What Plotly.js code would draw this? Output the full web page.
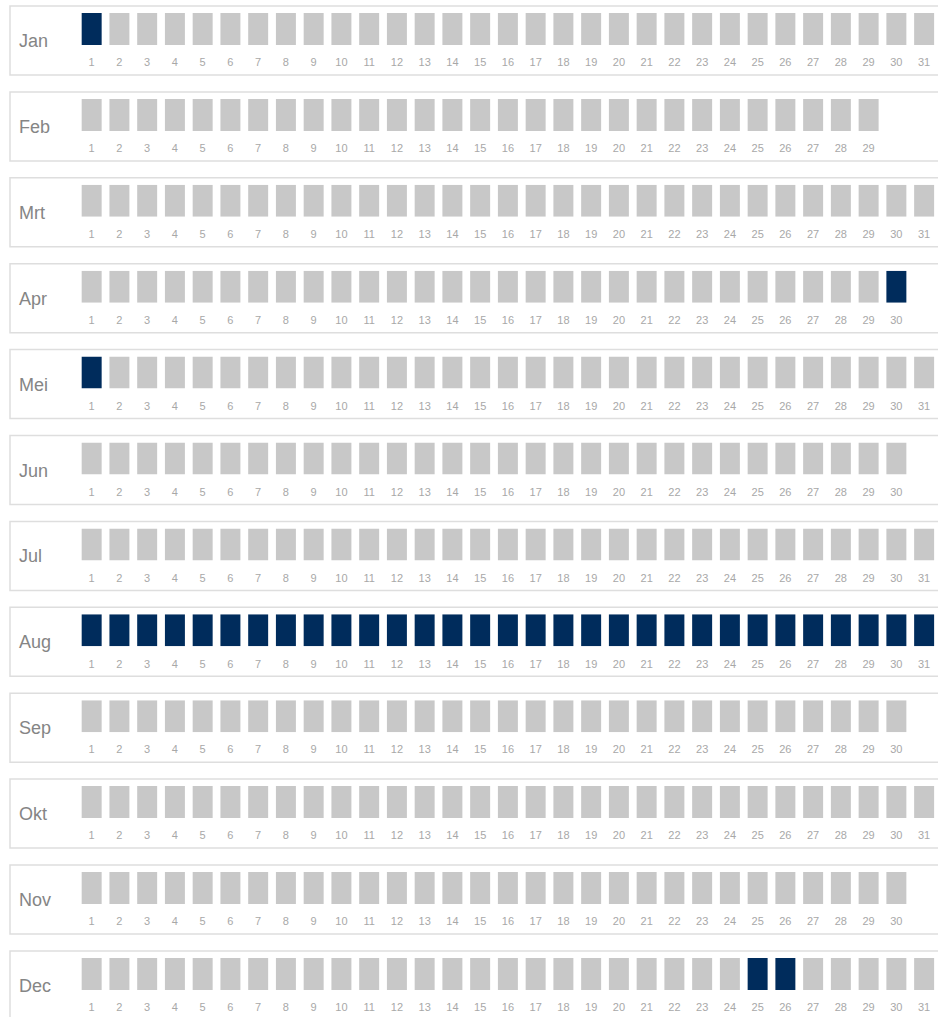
<!DOCTYPE html>
<html>
<head>
<meta charset="utf-8">
<script src="https://cdn.plot.ly/plotly-3.0.1.min.js"></script>
<style>
html,body{margin:0;padding:0;background:#fff;}
#chart{width:938px;height:1017px;}
</style>
</head>
<body>
<div id="chart"></div>
<script>
// ---- data ----
var months = ["Jan","Feb","Mrt","Apr","Mei","Jun","Jul","Aug","Sep","Okt","Nov","Dec"];
var daysInMonth = [31,29,31,30,31,30,31,31,30,31,30,31];
var dayNumbers = [1,2,3,4,5,6,7,8,9,10,11,12,13,14,15,16,17,18,19,20,21,22,23,24,25,26,27,28,29,30,31];
var highlightedDays = [
  [1],
  [],
  [],
  [30],
  [1],
  [],
  [],
  [1,2,3,4,5,6,7,8,9,10,11,12,13,14,15,16,17,18,19,20,21,22,23,24,25,26,27,28,29,30,31],
  [],
  [],
  [],
  [25,26]
];

// ---- styles ----
var W = 938, H = 1017;
var colorOff = "#c8c8c8";
var colorOn = "#002c5c";
var rowPitch = 85.9;
var rowTop0 = 6;

var traces = [];
var layout = {
  width: W, height: H,
  margin: {l:0, r:0, t:0, b:0},
  paper_bgcolor: "#ffffff",
  plot_bgcolor: "rgba(0,0,0,0)",
  showlegend: false,
  bargap: 0.28,
  font: {family: "Liberation Sans, Arial, sans-serif"},
  shapes: [],
  annotations: []
};

var xL = 77.8 / W;

months.forEach(function(m, i) {
  var n = daysInMonth[i];
  var days = dayNumbers.slice(0, n);
  var vals = days.map(function(){ return 1; });
  var colors = days.map(function(d){ return highlightedDays[i].indexOf(d) >= 0 ? colorOn : colorOff; });
  var sfx = i === 0 ? "" : String(i + 1);
  traces.push({
    type: "bar",
    x: days,
    y: vals,
    xaxis: "x" + sfx,
    yaxis: "y" + sfx,
    marker: {color: colors, line: {width: 0}},
    hoverinfo: "x",
    name: m
  });
  var top = rowTop0 + rowPitch * i;
  var cellTop = top + 7, cellBot = top + 39;
  layout["xaxis" + sfx] = {
    domain: [xL, 1],
    range: [0.5, 31.5],
    anchor: "y" + sfx,
    tickmode: "array",
    tickvals: days,
    ticktext: days.map(String),
    ticks: "outside",
    ticklen: 7,
    tickcolor: "rgba(0,0,0,0)",
    tickfont: {size: 11, color: "#a8a8a8"},
    showgrid: false, zeroline: false, showline: false,
    fixedrange: true
  };
  layout["yaxis" + sfx] = {
    domain: [1 - cellBot / H, 1 - cellTop / H],
    range: [0, 1],
    anchor: "x" + sfx,
    showticklabels: false, showgrid: false, zeroline: false, showline: false,
    fixedrange: true
  };
  layout.shapes.push({
    type: "rect", xref: "paper", yref: "paper",
    x0: 10 / W, x1: 945 / W,
    y0: 1 - (top + 69) / H, y1: 1 - top / H,
    line: {color: "#dedede", width: 1.5},
    fillcolor: "rgba(0,0,0,0)",
    layer: "below"
  });
  layout.annotations.push({
    text: m,
    xref: "paper", yref: "paper",
    x: 17 / W, y: 1 - (top + 35) / H,
    xanchor: "left", yanchor: "middle",
    showarrow: false,
    font: {size: 18, color: "#858585"}
  });
});

Plotly.newPlot("chart", traces, layout, {displayModeBar: false, staticPlot: true});
</script>
</body>
</html>
